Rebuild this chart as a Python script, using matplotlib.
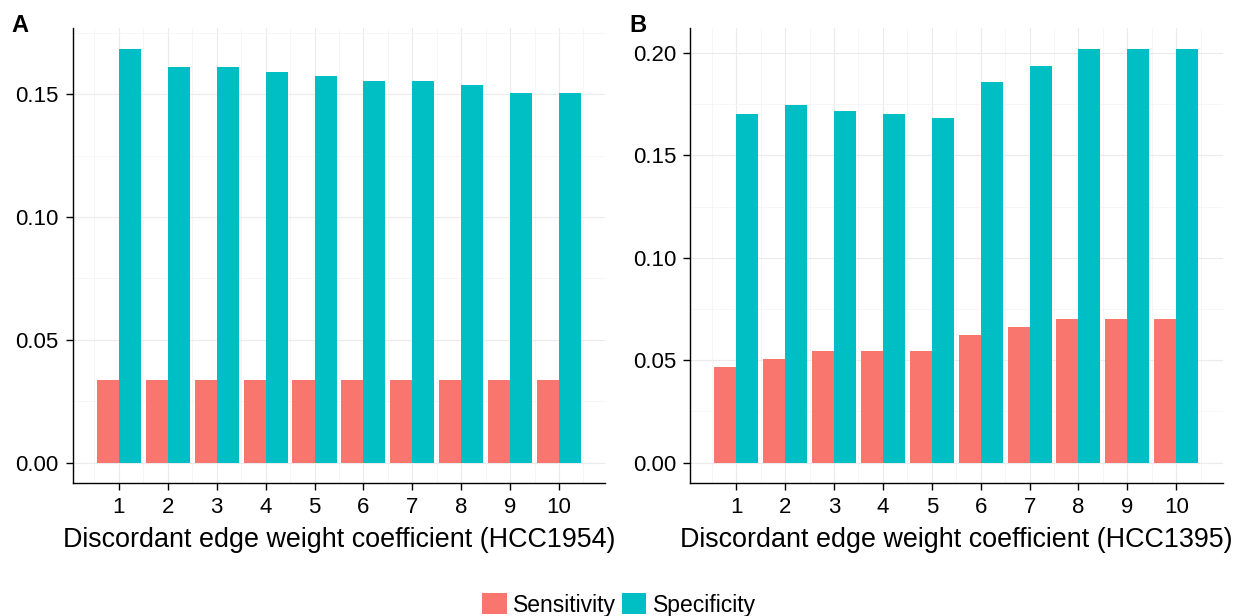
import numpy as np
import matplotlib
matplotlib.use("Agg")
import matplotlib.pyplot as plt
from matplotlib.patches import Patch
from matplotlib.ticker import MultipleLocator, FormatStrFormatter

plt.rcParams["font.family"] = ["Liberation Sans", "DejaVu Sans"]

coef = np.arange(1, 11)
labels = ["Sensitivity", "Specificity"]
colors = ["#F8766D", "#00BFC4"]

# panel A (HCC1954)
sens_a = [0.0337] * 10
spec_a = [0.1686, 0.1610, 0.1610, 0.1590, 0.1573, 0.1553, 0.1553, 0.1537, 0.1504, 0.1504]

# panel B (HCC1395)
sens_b = [0.0469, 0.0508, 0.0547, 0.0547, 0.0547, 0.0624, 0.0664, 0.0702, 0.0702, 0.0702]
spec_b = [0.1703, 0.1744, 0.1719, 0.1700, 0.1685, 0.1856, 0.1938, 0.2021, 0.2021, 0.2021]

panels = [
    ("A", "Discordant edge weight coefficient (HCC1954)", sens_a, spec_a),
    ("B", "Discordant edge weight coefficient (HCC1395)", sens_b, spec_b),
]

W, H = 1234, 616
fig = plt.figure(figsize=(W / 100, H / 100), dpi=100)

lefts = [72.7, 690]
ax_w = 532.5
top_px, bot_px = 28, 483.3
bw = 0.45

for (tag, xlabel, sens, spec), left in zip(panels, lefts):
    ax = fig.add_axes([left / W, (H - bot_px) / H, ax_w / W, (bot_px - top_px) / H])
    ax.bar(coef - bw / 2, sens, width=bw, color=colors[0], zorder=3)
    ax.bar(coef + bw / 2, spec, width=bw, color=colors[1], zorder=3)

    ymax = max(max(sens), max(spec))
    ax.set_ylim(-0.05 * ymax, 1.05 * ymax)
    ax.set_xlim(0.055, 10.945)

    ax.set_xticks(coef)
    ax.xaxis.set_minor_locator(MultipleLocator(1, offset=0.5))
    ax.yaxis.set_major_locator(MultipleLocator(0.05))
    ax.yaxis.set_minor_locator(MultipleLocator(0.025))
    ax.yaxis.set_major_formatter(FormatStrFormatter("%.2f"))

    ax.grid(which="major", color="#EBEBEB", linewidth=0.8, zorder=0)
    ax.grid(which="minor", color="#F5F5F5", linewidth=0.6, zorder=0)
    ax.set_axisbelow(True)

    for s in ["top", "right"]:
        ax.spines[s].set_visible(False)
    for s in ["left", "bottom"]:
        ax.spines[s].set_linewidth(1.0)
        ax.spines[s].set_color("black")

    ax.tick_params(which="major", length=5, width=1.0, color="black",
                   labelsize=16, labelcolor="black", pad=5)
    ax.tick_params(which="minor", length=0)
    ax.set_xlabel(xlabel, fontsize=19.4, labelpad=6.5)

    fig.text((left - 61) / W, 1 - 25 / H, tag, fontsize=17, fontweight="bold",
             ha="left", va="center")

handles = [Patch(facecolor=c, edgecolor="none") for c in colors]
fig.legend(handles, labels, loc="center", bbox_to_anchor=(0.502, 0.018),
           ncol=2, frameon=False, fontsize=16.5, handlelength=1.05,
           handleheight=1.05, handletextpad=0.3, columnspacing=0.26,
           borderpad=0, borderaxespad=0)

fig.savefig("out.png", dpi=100)
